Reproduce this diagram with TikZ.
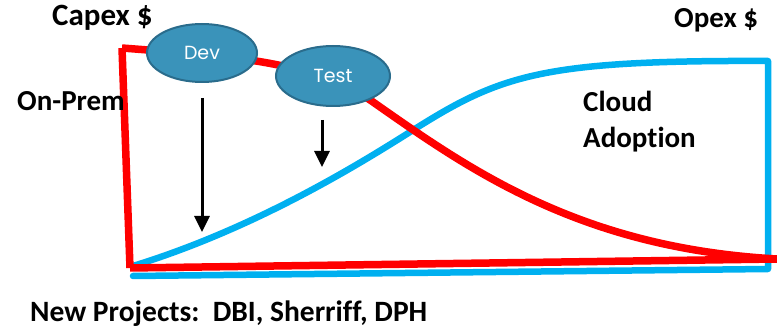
\documentclass[tikz,border=0pt]{standalone}
\usepackage{fontspec}
\setmainfont[Ligatures=NoCommon]{Carlito}
\newfontfamily\ovalfont{Poppins}
\usetikzlibrary{arrows.meta,shapes.geometric}
\definecolor{onprem}{HTML}{FF0000}
\definecolor{cloud}{HTML}{00B0F0}
\definecolor{ovalfill}{HTML}{3A93BA}
\definecolor{ovaledge}{HTML}{2A6C8C}
\tikzset{
  caption/.style={font=\bfseries\fontsize{29}{34}\selectfont, inner sep=0pt, anchor=base west},
  phase/.style={ellipse, draw=ovaledge, line width=2pt, fill=ovalfill, text=white,
    font=\ovalfont\fontsize{19}{22}\selectfont, inner sep=0pt},
  redline/.style={draw=onprem, line width=7.5pt, line join=round},
  blueline/.style={draw=cloud, line width=6.5pt, line join=round, line cap=round},
  pointer/.style={draw=black, line width=3pt, -{Triangle[width=15pt,length=16pt]}}
}
\begin{document}
\begin{tikzpicture}[x=1pt,y=-1pt]
\useasboundingbox (0,0) rectangle (777,331);

% cloud adoption curve and its frame
\draw[blueline] (133,266) .. controls (250,230) and (350,170) .. (410,132)
  .. controls (500,75) and (540,60) .. (768,61)
  -- (768,269) -- (133,276);

% on-prem curve and its frame
\draw[redline] (130,268) -- (122,48);
\draw[redline] (130,268) -- (777,259);
\draw[redline] (122,48) -- (148,50) .. controls (220,56) and (313,60) .. (373,102)
  .. controls (470,170) and (580,248) .. (777,259);

% phases
\node[phase, minimum width=110pt, minimum height=58pt] (dev) at (202,53) {Dev};
\node[phase, minimum width=114pt, minimum height=60pt] (test) at (333,76) {Test};

\coordinate (devtip) at (202,232);
\coordinate (testtip) at (322,167);
\draw[pointer] ([yshift=-15pt]dev.south) -- (devtip);
\draw[pointer] ([yshift=-13pt]test.south -| testtip) -- (testtip);

% labels
\node[caption, font=\bfseries\fontsize{31}{36}\selectfont] (capex) at (52,26) {Capex \$};
\node[caption] (opex) at (674,28) {Opex \$};
\node[caption] (onprem) at (17,111) {On-Prem};
\node[caption] (cloudlbl) at (583,112) {Cloud};
\node[caption] (adoptlbl) at (583,148) {Adoption};
\node[caption, font=\bfseries\fontsize{29.5}{34}\selectfont] (projects) at (30,321) {New Projects:\ \ DBI, Sherriff, DPH};
\end{tikzpicture}
\end{document}
